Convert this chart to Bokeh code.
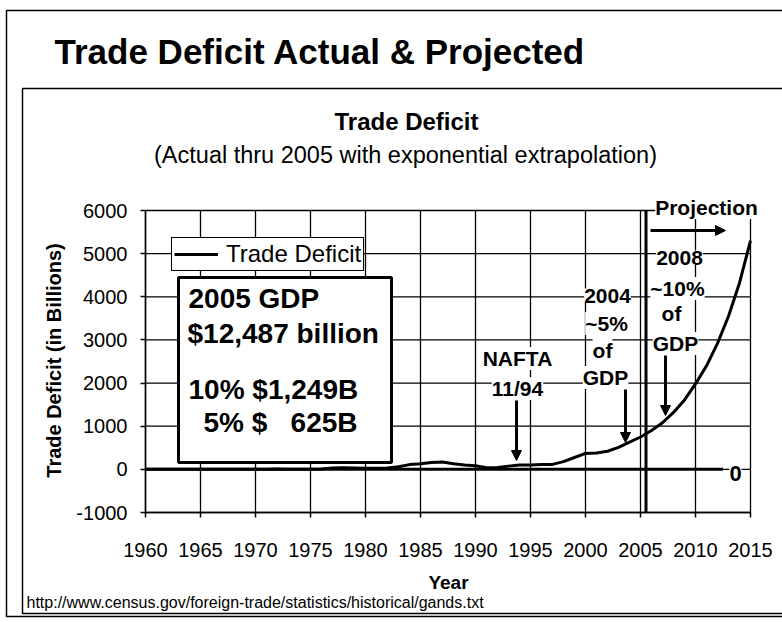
import math
from bokeh.plotting import figure
from bokeh.models import (Label, Arrow, NormalHead, BoxAnnotation, Range1d, FixedTicker,
                          PrintfTickFormatter, Legend, LegendItem)
from bokeh.embed import file_html
from bokeh.resources import INLINE

# ---------------- data ----------------
years = list(range(1960, 2016))
deficit = [0, 0, 0, 0, 0, 0, 0, 0, 5, 5,          # 1960-1969
           3, 5, 8, 3, 5, 2, 10, 30, 35, 30,      # 1970-1979
           25, 25, 30, 60, 110, 130, 160, 170, 130, 100,   # 1980-1989
           85, 40, 45, 75, 100, 100, 110, 115, 180, 275,   # 1990-1999
           370, 380, 420, 510, 630, 750,                   # 2000-2005 actual
           900, 1080, 1320, 1610, 1980, 2400, 2920, 3550, 4320, 5300]  # 2006-2015 projection
zero_line_years = [1960, 2012.5]
zero_line_values = [0, 0]
projection_start = 2005.5
x_ticks = [1960, 1965, 1970, 1975, 1980, 1985, 1990, 1995, 2000, 2005, 2010, 2015]
y_ticks = [-1000, 0, 1000, 2000, 3000, 4000, 5000, 6000]

# ---------------- geometry (pixels of the picture) ----------------
W, H = 782, 622
PL, PR, PT, PB = 145, 750, 210, 512       # plot area
XA, XB = x_ticks[0], x_ticks[-1]
YA, YB = y_ticks[0], y_ticks[-1]

def X(ix):  # px -> data x
    return XA + (ix - PL) * (XB - XA) / (PR - PL)

def Y(iy):  # px -> data y
    return YB - (iy - PT) * (YB - YA) / (PB - PT)

SANS = "Liberation Sans"

p = figure(width=W, height=H, output_backend="svg", toolbar_location=None,
           x_range=Range1d(X(0), X(W)), y_range=Range1d(Y(H), Y(0)),
           min_border=0)
p.min_border_left = p.min_border_right = p.min_border_top = p.min_border_bottom = 0
p.background_fill_color = "white"
p.border_fill_color = "white"
p.outline_line_color = None
p.xgrid.visible = False
p.ygrid.visible = False

for ax in (p.xaxis[0], p.yaxis[0]):
    ax.axis_line_color = "black"
    ax.axis_line_width = 1.5
    ax.major_tick_line_color = "black"
    ax.major_tick_line_width = 1.5
    ax.major_tick_out = 5
    ax.major_tick_in = 0
    ax.minor_tick_line_color = None
    ax.major_label_text_font = SANS
    ax.major_label_text_font_size = "20px"
    ax.major_label_text_color = "black"
    ax.formatter = PrintfTickFormatter(format="%d")
p.xaxis.fixed_location = YA
p.xaxis.bounds = (XA, XB)
p.xaxis.ticker = FixedTicker(ticks=x_ticks)
p.xaxis.major_label_standoff = 25
p.yaxis.fixed_location = XA
p.yaxis.bounds = (YA, YB)
p.yaxis.ticker = FixedTicker(ticks=y_ticks)
p.yaxis.major_label_standoff = 13

# decorative frames
p.add_layout(BoxAnnotation(left=X(6), right=X(820), top=Y(10), bottom=Y(616),
                           fill_color=None, line_color="black", line_alpha=1, line_width=1.5))
p.add_layout(BoxAnnotation(left=X(22), right=X(820), top=Y(88), bottom=Y(613),
                           fill_color=None, line_color="black", line_alpha=1, line_width=1.5))

# grid lines, bounded to the plot area
p.segment(x0=x_ticks, y0=[YA] * len(x_ticks), x1=x_ticks, y1=[YB] * len(x_ticks),
          line_color="black", line_width=1.3)
p.segment(x0=[XA] * len(y_ticks), y0=y_ticks, x1=[XB] * len(y_ticks), y1=y_ticks,
          line_color="black", line_width=1.3)

# series
p.line(zero_line_years, zero_line_values, line_color="black", line_width=3)
r = p.line(years, deficit, line_color="black", line_width=3)
p.segment(x0=[projection_start], y0=[YA], x1=[projection_start], y1=[YB],
          line_color="black", line_width=3)

# legend
leg = Legend(items=[LegendItem(label="Trade Deficit", renderers=[r])],
             location=(171, H - 271), label_text_font=SANS, label_text_font_size="24px",
             label_text_color="black",
             glyph_width=44, glyph_height=20, label_standoff=8, padding=2, spacing=0,
             margin=0, border_line_color="black", border_line_alpha=1, border_line_width=1.5,
             background_fill_color="white", background_fill_alpha=1.0)
p.add_layout(leg)

# GDP box
p.add_layout(BoxAnnotation(left=X(178), right=X(391), top=Y(277), bottom=Y(462),
                           fill_color="white", fill_alpha=1.0, line_color="black",
                           line_alpha=1, line_width=3))

def txt(s, ix, iy, size, bold=True, align="left", bg=None, angle=0):
    lab = Label(x=X(ix), y=Y(iy), text=s, text_font=SANS, text_font_size=f"{size}px",
                text_font_style="bold" if bold else "normal", text_align=align,
                text_baseline="middle", text_color="black", angle=angle)
    if bg:
        lab.background_fill_color = bg
        lab.background_fill_alpha = 1.0
    p.add_layout(lab)

# titles
txt("Trade Deficit Actual & Projected", 54, 51, 35)
txt("Trade Deficit", 406, 121, 24, align="center")
txt("(Actual thru 2005 with exponential extrapolation)", 405, 154, 23.5, bold=False, align="center")
txt("Trade Deficit (in Billions)", 53, 360, 20, align="center", angle=math.pi / 2)
txt("Year", 448, 582, 19, align="center")
txt("http://www.census.gov/foreign-trade/statistics/historical/gands.txt", 26, 602, 16, bold=False)

# GDP box text
txt("2005 GDP", 188, 298, 28)
txt("$12,487 billion", 187, 333, 28)
txt("10% $1,249B", 188, 389, 28)
txt("5% $", 203, 422, 28)
txt("625B", 357, 422, 28, align="right")

# annotations
for s, ix, iy in [("NAFTA", 517, 358), ("11/94", 517, 388),
                  ("2004", 607, 295), ("~5%", 606, 323), ("of", 602, 350), ("GDP", 605, 377),
                  ("2008", 679, 257), ("~10%", 677, 288), ("of", 671, 313), ("GDP", 675, 343),
                  ("Projection", 706, 207)]:
    txt(s, ix, iy, 21, align="center", bg="white")
txt("0", 735, 473, 22, align="center", bg="white")

for (ix0, iy0, ix1, iy1) in [(516, 400, 516, 460), (625, 389, 625, 442),
                             (665, 355, 665, 415), (650, 230, 725, 230)]:
    p.add_layout(Arrow(x_start=X(ix0), y_start=Y(iy0), x_end=X(ix1), y_end=Y(iy1),
                       line_width=3, line_color="black",
                       end=NormalHead(size=10, fill_color="black", line_color="black")))

open("out.html", "w").write(file_html(p, INLINE))
